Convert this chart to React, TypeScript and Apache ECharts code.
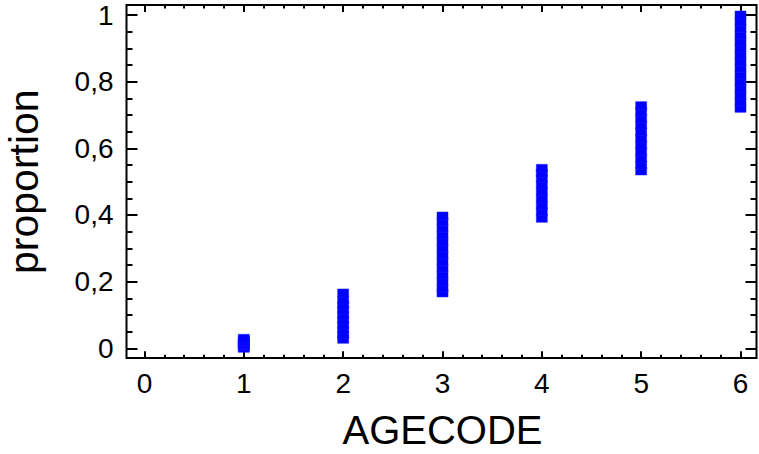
import React, { useEffect, useRef } from "react";
import * as echarts from "echarts";

// Categories (AGECODE) and observed proportions per category
const ageCodes = [1, 2, 3, 4, 5, 6];
const age1 = [0.0, 0.004, 0.008, 0.012, 0.016, 0.02, 0.025, 0.03];
const age2 = [0.027, 0.04, 0.055, 0.07, 0.085, 0.1, 0.115, 0.13, 0.145, 0.166];
const age3 = [0.166, 0.18, 0.2, 0.22, 0.24, 0.26, 0.28, 0.3, 0.32, 0.34, 0.36, 0.38, 0.397];
const age4 = [0.39, 0.41, 0.43, 0.45, 0.47, 0.49, 0.51, 0.525, 0.54];
const age5 = [0.532, 0.55, 0.57, 0.59, 0.61, 0.63, 0.65, 0.67, 0.69, 0.71, 0.728];
const age6 = [0.72, 0.74, 0.76, 0.78, 0.8, 0.82, 0.84, 0.86, 0.88, 0.9, 0.92, 0.94, 0.96, 0.98, 1.0];
const proportions = [age1, age2, age3, age4, age5, age6];

const xTickLabels = ["0", "1", "2", "3", "4", "5", "6"];
const yTickLabels = ["0", "0,2", "0,4", "0,6", "0,8", "1"];

const FONT = "'Liberation Sans', Arial, sans-serif";

export default function App() {
  const ref = useRef<HTMLDivElement>(null);
  useEffect(() => {
    document.body.style.margin = "0";
    if (!ref.current) return;
    const chart = echarts.init(ref.current, null, { renderer: "svg" });
    const data: number[][] = [];
    ageCodes.forEach((a, i) => proportions[i].forEach((p) => data.push([a, p])));

    const tickStyle = { color: "#000", width: 2 };
    const mkX = (position: "bottom" | "top", withLabels: boolean) => ({
      type: "value",
      gridIndex: 0,
      position,
      offset: 10,
      min: 0,
      max: 6,
      interval: 1,
      axisLine: { show: false, onZero: false },
      axisTick: { show: true, inside: true, length: 7, lineStyle: tickStyle },
      minorTick: { show: true, splitNumber: 5, length: 3.5, lineStyle: tickStyle },
      splitLine: { show: false },
      minorSplitLine: { show: false },
      axisLabel: {
        show: withLabels,
        color: "#000",
        fontSize: 28,
        fontFamily: FONT,
        margin: 11,
        formatter: (v: number) => xTickLabels[Math.round(v)] ?? "",
      },
      ...(withLabels
        ? {
            name: "AGECODE",
            nameLocation: "middle",
            nameGap: 52,
            nameTextStyle: { color: "#000", fontSize: 40, fontFamily: FONT },
          }
        : {}),
    });
    const mkY = (position: "left" | "right", offset: number, withLabels: boolean) => ({
      type: "value",
      gridIndex: 0,
      position,
      offset,
      min: 0,
      max: 1,
      interval: 0.2,
      axisLine: { show: false, onZero: false },
      axisTick: { show: true, inside: true, length: 11, lineStyle: tickStyle },
      minorTick: { show: true, splitNumber: 4, length: 6, lineStyle: tickStyle },
      splitLine: { show: false },
      minorSplitLine: { show: false },
      axisLabel: {
        show: withLabels,
        color: "#000",
        fontSize: 28,
        fontFamily: FONT,
        margin: 13,
        formatter: (v: number) => yTickLabels[Math.round(v * 5)] ?? "",
      },
      ...(withLabels
        ? {
            name: "proportion",
            nameLocation: "middle",
            nameGap: 82,
            nameTextStyle: { color: "#000", fontSize: 41, fontFamily: FONT },
          }
        : {}),
    });

    chart.setOption({
      animation: false,
      backgroundColor: "#fff",
      grid: [
        {
          left: 144.5,
          right: 18.5,
          top: 15,
          bottom: 105.7,
          outerBoundsMode: "none",
        },
        {
          left: 126.5,
          right: 2.5,
          top: 5,
          bottom: 96,
          show: true,
          borderColor: "#000",
          borderWidth: 2,
          backgroundColor: "transparent",
          outerBoundsMode: "none",
        },
      ],
      xAxis: [
        mkX("bottom", true),
        mkX("top", false),
        { type: "value", gridIndex: 1, show: false, min: 0, max: 1 },
      ],
      yAxis: [
        mkY("left", 18, true),
        mkY("right", 16, false),
        { type: "value", gridIndex: 1, show: false, min: 0, max: 1 },
      ],
      series: [
        {
          type: "scatter",
          xAxisIndex: 0,
          yAxisIndex: 0,
          clip: false,
          symbol: "rect",
          symbolSize: [11, 8],
          itemStyle: { color: "#0000ff", opacity: 1, borderColor: "#1a1aff", borderWidth: 0.5 },
          data,
        },
      ],
    });
    return () => chart.dispose();
  }, []);
  return <div ref={ref} style={{ width: 759, height: 454 }} />;
}
